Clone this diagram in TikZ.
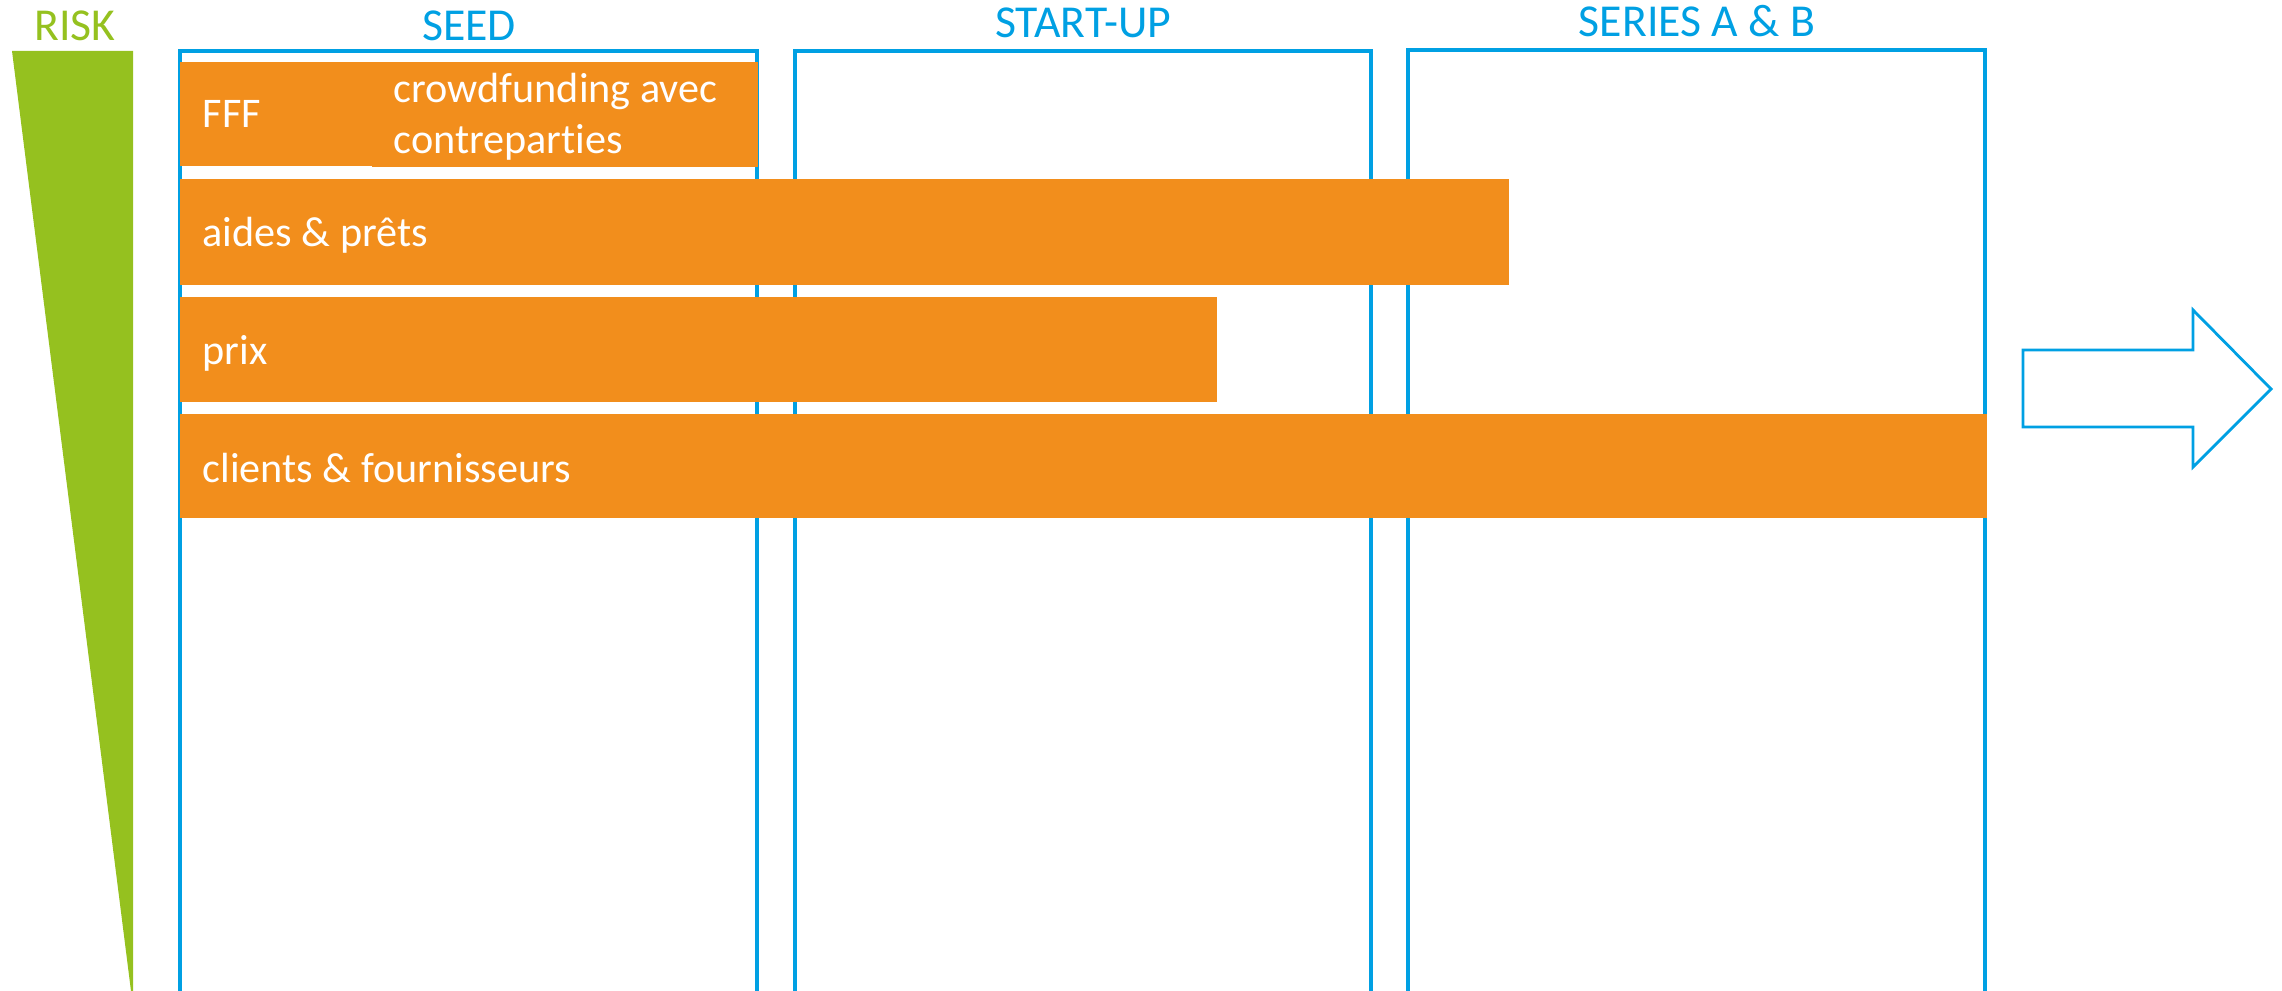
\documentclass[tikz,border=0pt]{standalone}
\usepackage{fontspec}
\setmainfont{Carlito}[Ligatures=NoCommon]
\usetikzlibrary{positioning}
\definecolor{riskgreen}{RGB}{149,193,31}
\definecolor{stageblue}{RGB}{0,160,227}
\definecolor{barorange}{RGB}{242,142,28}
\tikzset{
  stage/.style={draw=stageblue,line width=1pt},
  stagelabel/.style={text=stageblue,font=\fontsize{13}{15}\selectfont,anchor=base,inner sep=0pt},
  bartext/.style={text=white,font=\fontsize{12}{14.7}\selectfont,anchor=base west,inner sep=0pt,align=left}
}
\begin{document}
\begin{tikzpicture}[x=0.01cm,y=-0.01cm]
\useasboundingbox (0,0) rectangle (2282,991);
\fill[riskgreen] (12,51) -- (133,51) -- (133,991) -- (131,991) -- cycle;
\node[stagelabel,text=riskgreen] (risk) at (75,41) {RISK};
\draw[stage] (180,1000) |- (757,51) -- (757,1000);
\draw[stage] (795,1000) |- (1371,51) -- (1371,1000);
\draw[stage] (1408,1000) |- (1985,50) -- (1985,1000);
\node[stagelabel] (seed) at (469,41) {SEED};
\node[stagelabel] (startup) at (1083,38) {START-UP};
\node[stagelabel] (series) at (1697,37) {SERIES A \& B};
\fill[barorange] (180,62) rectangle (372,166);
\fill[barorange] (372,62) rectangle (758,167);
\fill[barorange] (180,179) rectangle (1509,285);
\fill[barorange] (180,297) rectangle (1217,402);
\fill[barorange] (180,414) rectangle (1987,518);
\node[bartext] (fff) at (202,128) {FFF};
\node[bartext] (crowd) at (393,154) {crowdfunding avec\\contreparties};
\node[bartext] (aides) at (202,247) {aides \& prêts};
\node[bartext] (prix) at (202,364) {prix};
\node[bartext] (clients) at (202,482) {clients \& fournisseurs};
\draw[draw=stageblue,line width=0.8pt] (2023,350) -- (2193,350) -- (2193,310) -- (2271,389) -- (2193,467) -- (2193,427) -- (2023,427) -- cycle;
\end{tikzpicture}
\end{document}
